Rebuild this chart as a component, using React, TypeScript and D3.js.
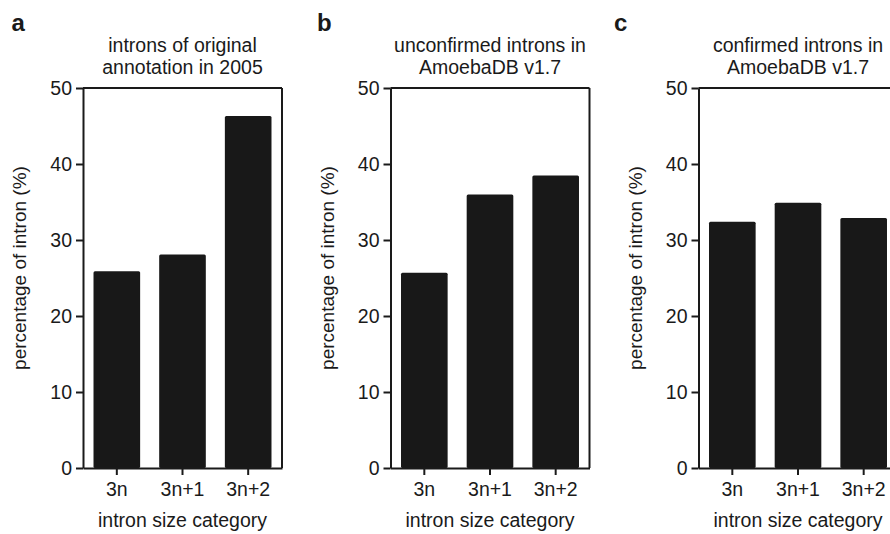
import React, { useRef, useEffect } from "react";
import * as d3 from "d3";

const categories = ["3n", "3n+1", "3n+2"];
const panelLetters = ["a", "b", "c"];
const panelTitles = [
  ["introns of original", "annotation in 2005"],
  ["unconfirmed introns in", "AmoebaDB v1.7"],
  ["confirmed introns in", "AmoebaDB v1.7"],
];
const originalAnnotation2005 = [25.9, 28.1, 46.3];
const unconfirmedV17 = [25.7, 36.0, 38.5];
const confirmedV17 = [32.4, 34.9, 32.9];
const yTicks = [0, 10, 20, 30, 40, 50];
const yLabel = "percentage of intron (%)";
const xLabel = "intron size category";

const panelSeries = [originalAnnotation2005, unconfirmedV17, confirmedV17];

export default function App() {
  const svgRef = useRef(null);

  useEffect(() => {
    const width = 890;
    const height = 534;
    const panelLeft = [83, 390.5, 698.5];
    const letterX = [11.5, 317, 614];
    const panelWidth = 199;
    const top = 88;
    const bottom = 468;
    const font = "'Liberation Sans', Arial, Helvetica, sans-serif";
    const ink = "#1a1a1a";

    const svg = d3.select(svgRef.current);
    svg.selectAll("*").remove();
    svg.attr("width", width).attr("height", height);

    const y = d3.scaleLinear().domain([0, 50]).range([bottom, top]);

    panelSeries.forEach((values, i) => {
      const left = panelLeft[i];
      const x = d3
        .scaleBand()
        .domain(categories)
        .range([left, left + panelWidth])
        .paddingInner(0.29)
        .paddingOuter(0.16);

      const g = svg.append("g");

      // bars
      g.selectAll("rect.bar")
        .data(values)
        .join("rect")
        .attr("class", "bar")
        .attr("x", (d, j) => x(categories[j]))
        .attr("y", (d) => y(d))
        .attr("width", x.bandwidth())
        .attr("height", (d) => bottom - y(d))
        .attr("rx", 1.5)
        .attr("fill", "#181818");

      // frame: top and right
      g.append("line")
        .attr("x1", left).attr("x2", left + panelWidth)
        .attr("y1", top).attr("y2", top)
        .attr("stroke", ink).attr("stroke-width", 2);
      g.append("line")
        .attr("x1", left + panelWidth).attr("x2", left + panelWidth)
        .attr("y1", top).attr("y2", bottom)
        .attr("stroke", ink).attr("stroke-width", 2);

      // y axis
      const yAxis = g
        .append("g")
        .attr("transform", `translate(${left},0)`)
        .call(d3.axisLeft(y).tickValues(yTicks).tickSize(7).tickSizeOuter(0).tickPadding(4));
      yAxis.select(".domain").attr("stroke", ink).attr("stroke-width", 2);
      yAxis.selectAll(".tick line").attr("stroke", ink).attr("stroke-width", 2);
      yAxis.selectAll(".tick text")
        .attr("font-family", font).attr("font-size", 19.5).attr("fill", ink);

      // x axis
      const xAxis = g
        .append("g")
        .attr("transform", `translate(0,${bottom})`)
        .call(d3.axisBottom(x).tickSize(7).tickSizeOuter(0).tickPadding(7));
      xAxis.select(".domain").attr("stroke", ink).attr("stroke-width", 2);
      xAxis.selectAll(".tick line").attr("stroke", ink).attr("stroke-width", 2);
      xAxis.selectAll(".tick text")
        .attr("font-family", font).attr("font-size", 19.5).attr("fill", ink);

      // title
      const cx = left + panelWidth / 2;
      panelTitles[i].forEach((line, k) => {
        g.append("text")
          .attr("x", cx)
          .attr("y", 52 + k * 22)
          .attr("text-anchor", "middle")
          .attr("font-family", font)
          .attr("font-size", 19.5)
          .attr("fill", ink)
          .text(line);
      });

      // panel letter
      g.append("text")
        .attr("x", letterX[i])
        .attr("y", 30.5)
        .attr("font-family", font)
        .attr("font-size", 24)
        .attr("font-weight", "bold")
        .attr("fill", ink)
        .text(panelLetters[i]);

      // y label
      g.append("text")
        .attr("transform", `translate(${left - 57},${(top + bottom) / 2 - 10}) rotate(-90)`)
        .attr("text-anchor", "middle")
        .attr("font-family", font)
        .attr("font-size", 19)
        .attr("fill", ink)
        .text(yLabel);

      // x label
      g.append("text")
        .attr("x", cx)
        .attr("y", 527)
        .attr("text-anchor", "middle")
        .attr("font-family", font)
        .attr("font-size", 19.5)
        .attr("fill", ink)
        .text(xLabel);
    });
  }, []);

  return (
    <svg
      ref={svgRef}
      style={{ position: "absolute", left: 0, top: 0, background: "#fff" }}
    ></svg>
  );
}
